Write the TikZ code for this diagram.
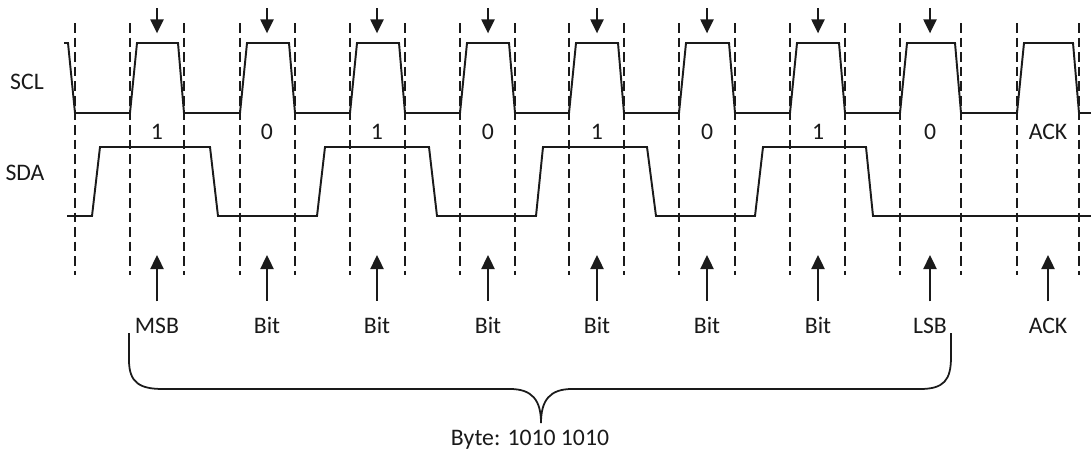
\documentclass[tikz,border=0pt]{standalone}
\usepackage{fontspec}
\setmainfont{Carlito}
\usetikzlibrary{arrows.meta,positioning}
\definecolor{wvInk}{HTML}{1A1A1A}
\tikzset{
  wv canvas/.style={fill=white},
  wv line/.style={draw=wvInk, line width=1.1pt, line join=miter},
  wv guide/.style={draw=wvInk, line width=1.1pt, dash pattern=on 5.5pt off 2.8pt},
  wv marker/.style={
    draw=wvInk,
    line width=1.1pt,
    -{Triangle[length=8pt,width=7.5pt]}
  },
  wv brace/.style={draw=wvInk, line width=1pt},
  wv label/.style={font=\fontsize{13.5}{16}\selectfont, text=wvInk, inner sep=1pt}
}

\begin{document}
\begin{tikzpicture}[x=0.02cm,y=-0.02cm]
  \path[wv canvas] (0,0) rectangle (1091,453);
  \useasboundingbox (0,0) rectangle (1091,453);
  \node[wv label] (scl) at (27,82) {SCL};
  \node[wv label] (sda) at (25,173) {SDA};

  \foreach \x in {75,130,184,240,295,350,405,460,515,569,624,679,735,790,845,900,961,1017,1079}
    \draw[wv guide] (\x,23) -- (\x,275);

  \draw[wv line] (64,43) -- (68,43) -- (75,113)
    foreach \a/\b in {130/184,240/295,350/405,460/515,569/624,679/735,790/845,900/961,1017/1079}
    { -- (\a,113) -- ({\a+7},43) -- ({\b-6},43) -- (\b,113) } -- (1091,113);

  \draw[wv line] (67,216) -- (92,216) -- (100,147) -- (210,147) -- (218,216)
    -- (317,216) -- (325,147) -- (429,147) -- (437,216)
    -- (536,216) -- (543,147) -- (647,147) -- (656,216)
    -- (755,216) -- (763,147) -- (866,147) -- (873,216) -- (1091,216);

  \foreach \x/\v [count=\i] in {157/1,267/0,377/1,488/0,597/1,707/0,818/1,930/0} {
    \node[wv label] (val\i) at (\x,132) {\v};
    \coordinate (clk\i) at (\x,8);
    \coordinate (top\i) at (\x,43);
    \draw[wv marker, shorten >=5.5pt] (clk\i) -- (top\i);
  }
  \node[wv label] (ackval) at (1048,132) {ACK};

  \foreach \x/\t [count=\i] in {157/MSB,267/Bit,377/Bit,488/Bit,597/Bit,707/Bit,818/Bit,930/LSB,1048/ACK} {
    \node[wv label, anchor=base] (tag\i) at (\x,333) {\t};
    \coordinate (pt\i) at (\x,255);
    \draw[wv marker, shorten <=8pt] (tag\i.north) -- (pt\i);
  }

  \coordinate (braceL) at (129,333);
  \coordinate (braceR) at (951,333);
  \coordinate (braceTip) at (541,423);
  \draw[wv brace] (braceL) -- (129,360) .. controls (129,383) and (140,389) .. (163,389)
    -- (510,389) .. controls (532,389) and (541,400) .. (braceTip)
    .. controls (541,400) and (550,389) .. (572,389)
    -- (920,389) .. controls (944,389) and (951,380) .. (951,357) -- (braceR);
  \node[wv label] (byte) at (530,440) {Byte: 1010 1010};
\end{tikzpicture}
\end{document}
